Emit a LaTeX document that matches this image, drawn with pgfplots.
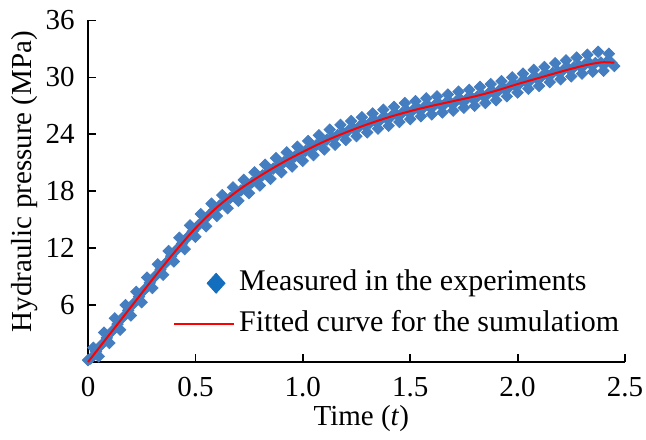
\documentclass[border=0pt]{standalone}
\usepackage{fontspec}
\setmainfont{Liberation Serif}
\usepackage{pgfplots}
\pgfplotsset{compat=1.18}
\definecolor{meas}{RGB}{68,125,192}
\definecolor{measleg}{RGB}{20,110,190}
\pgfplotstableread{
x y
0.000 0.2
0.025 1.5
0.050 0.6
0.075 3.1
0.100 2.0
0.125 4.6
0.150 3.4
0.175 6.0
0.200 4.9
0.225 7.4
0.250 6.3
0.275 8.9
0.300 7.8
0.325 10.3
0.350 9.2
0.375 11.7
0.400 10.6
0.425 13.1
0.450 11.9
0.475 14.4
0.500 13.2
0.525 15.6
0.550 14.3
0.575 16.7
0.600 15.4
0.625 17.6
0.650 16.2
0.675 18.4
0.700 17.0
0.725 19.2
0.750 17.8
0.775 20.0
0.800 18.6
0.825 20.8
0.850 19.3
0.875 21.5
0.900 20.0
0.925 22.1
0.950 20.6
0.975 22.7
1.000 21.2
1.025 23.3
1.050 21.8
1.075 23.9
1.100 22.4
1.125 24.5
1.150 22.9
1.175 25.0
1.200 23.4
1.225 25.4
1.250 23.8
1.275 25.8
1.300 24.2
1.325 26.2
1.350 24.6
1.375 26.6
1.400 24.9
1.425 26.9
1.450 25.3
1.475 27.3
1.500 25.6
1.525 27.5
1.550 25.9
1.575 27.8
1.600 26.1
1.625 28.0
1.650 26.3
1.675 28.2
1.700 26.5
1.725 28.5
1.750 26.8
1.775 28.7
1.800 27.0
1.825 29.0
1.850 27.3
1.875 29.3
1.900 27.6
1.925 29.6
1.950 28.0
1.975 30.0
2.000 28.4
2.025 30.4
2.050 28.8
2.075 30.8
2.100 29.1
2.125 31.1
2.150 29.5
2.175 31.5
2.200 29.8
2.225 31.8
2.250 30.1
2.275 32.1
2.300 30.4
2.325 32.4
2.350 30.6
2.375 32.7
2.400 30.7
2.425 32.5
2.450 31.2
0.0125 0.36
0.0375 1.09
0.0625 1.81
0.0875 2.54
0.1125 3.26
0.1375 3.99
0.1625 4.71
0.1875 5.44
0.2125 6.16
0.2375 6.89
0.2625 7.61
0.2875 8.34
0.3125 9.05
0.3375 9.75
0.3625 10.45
0.3875 11.15
0.4125 11.83
0.4375 12.48
0.4625 13.13
0.4875 13.78
0.5125 14.38
0.5375 14.93
0.5625 15.48
0.5875 16.03
0.6125 16.50
0.6375 16.90
0.6625 17.30
0.6875 17.70
0.7125 18.10
0.7375 18.50
0.7625 18.90
0.7875 19.30
0.8125 19.68
0.8375 20.03
0.8625 20.38
0.8875 20.73
0.9125 21.08
0.9375 21.35
0.9625 21.65
0.9875 21.95
1.0125 22.25
1.0375 22.55
1.0625 22.85
1.0875 23.15
1.1125 23.43
1.1375 23.68
1.1625 23.93
1.1875 24.18
1.2125 24.40
1.2375 24.60
1.2625 24.80
1.2875 25.00
1.3125 25.20
1.3375 25.38
1.3625 25.55
1.3875 25.72
1.4125 25.90
1.4375 26.08
1.4625 26.25
1.4875 26.42
1.5125 26.55
1.5375 26.68
1.5625 26.82
1.5875 26.95
1.6125 27.05
1.6375 27.15
1.6625 27.25
1.6875 27.35
1.7125 27.47
1.7375 27.60
1.7625 27.72
1.7875 27.85
1.8125 27.98
1.8375 28.12
1.8625 28.28
1.8875 28.42
1.9125 28.60
1.9375 28.80
1.9625 29.00
1.9875 29.20
2.0125 29.40
2.0375 29.58
2.0625 29.75
2.0875 29.93
2.1125 30.10
2.1375 30.28
2.1625 30.45
2.1875 30.62
2.2125 30.78
2.2375 30.92
2.2625 31.08
2.2875 31.22
2.3125 31.35
2.3375 31.45
2.3625 31.52
2.3875 31.58
2.4125 31.58
2.4375 31.52
}\measured
\pgfplotstableread{
x y
0.00 0.0
0.10 2.9
0.20 5.8
0.30 8.7
0.40 11.5
0.50 14.1
0.60 16.3
0.70 18.1
0.80 19.6
0.90 20.95
1.00 22.15
1.10 23.25
1.20 24.2
1.30 25.05
1.40 25.8
1.50 26.45
1.60 27.0
1.70 27.5
1.80 28.0
1.90 28.6
2.00 29.3
2.10 29.95
2.20 30.6
2.30 31.2
2.35 31.45
2.40 31.6
2.45 31.55
}\fitted
\begin{document}
\begin{tikzpicture}
\begin{axis}[name=ax, scale only axis, width=268.5pt, height=170.75pt,
  xmin=0, xmax=2.5, ymin=0, ymax=36,
  axis x line*=bottom, axis y line*=left,
  axis line style={line width=0.9pt},
  tick style={line width=0.9pt, black},
  tick align=inside, major tick length=4pt,
  xtick={0,0.5,1,1.5,2,2.5}, xticklabels={0,0.5,1.0,1.5,2.0,2.5},
  ytick={6,12,18,24,30,36}, yticklabels={6,12,18,24,30,36},
  font=\fontsize{14.5}{17}\selectfont,
  xticklabel style={yshift=-4.2pt},
  yticklabel style={xshift=-3.2pt},
  xlabel={Time (\textit{t})},
  ylabel={Hydraulic pressure (MPa)},
  xlabel style={at={(axis description cs:0.509,-0.1845)}, anchor=base},
  ylabel style={at={(axis description cs:-0.1043,0.5285)}, anchor=base},
  clip=false, clip marker paths=true,
  legend cell align=left,
  legend style={at={(axis description cs:0.1583,0.2804)}, anchor=north west,
    draw=none, fill=none, inner sep=0pt, outer sep=0pt,
    font=\fontsize{15}{18}\selectfont, row sep=3.5pt,
    nodes={inner sep=2pt, text height=10pt, text depth=3pt}},
]
\addplot[only marks, mark=square*, mark size=2.0pt, mark options={rotate=45}, color=meas, forget plot] table[x=x,y=y] {\measured};
\addplot[red, line width=1.0pt, smooth, forget plot] table[x=x,y=y] {\fitted};
\addlegendimage{legend image code/.code={\fill[measleg] (21pt,5pt) -- (25.5pt,0pt) -- (21pt,-5pt) -- (16.5pt,0pt) -- cycle;}}
\addlegendentry{Measured in the experiments}
\addlegendimage{legend image code/.code={\draw[red, line width=1.1pt] (0pt,0pt) -- (30pt,0pt);}}
\addlegendentry{Fitted curve for the sumulatiom}
\end{axis}
\pgfresetboundingbox
\path[use as bounding box] ([shift={(-44pt,-38.5pt)}]ax.south west) rectangle ([shift={(10.5pt,10.25pt)}]ax.north east);
\end{tikzpicture}
\end{document}
